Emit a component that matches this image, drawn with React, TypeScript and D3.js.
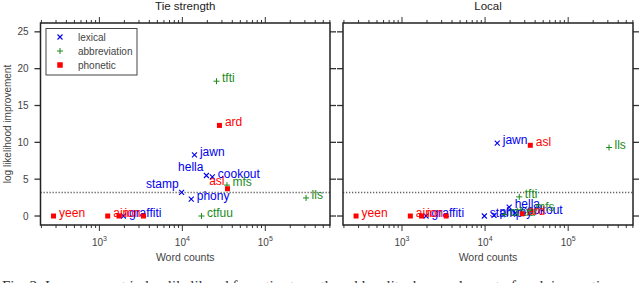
import React, { useRef, useEffect } from "react";
import * as d3 from "d3";

// word list and values
const words = ["yeen", "ain", "ion", "", "graffiti", "stamp", "phony", "jawn", "hella", "cookout", "ctfuu", "tfti", "ard", "asl", "mfs", "lls"];
const wordTypes = ["phonetic", "phonetic", "phonetic", "phonetic", "lexical", "lexical", "lexical", "lexical", "lexical", "lexical", "abbreviation", "abbreviation", "phonetic", "phonetic", "abbreviation", "abbreviation"];
const wordCounts = [280, 1260, 1720, 3400, 1950, 9800, 12800, 14000, 19500, 23000, 17000, 25800, 28000, 35000, 34500, 310000];
const tieStrength = [0, 0, 0, 0, 0, 3.2, 2.3, 8.3, 5.5, 5.3, 0, 18.3, 12.3, 3.7, 4.2, 2.45];
const localGain = [0, 0, 0, 0, 0, 0, 0.1, 9.9, 1.2, 0.4, 0.2, 2.6, 0.3, 9.6, 0.8, 9.3];

const panelTitles = ["Tie strength", "Local"];
const categories = ["lexical", "abbreviation", "phonetic"];
const yTicks = [0, 5, 10, 15, 20, 25];
const threshold = 3.2;

const colors = { lexical: "#0000f0", abbreviation: "#1a8a1a", phonetic: "#ff0000" };
// labels placed to the left of the marker on the first panel
const leftLabels = ["stamp", "hella", "asl"];

const drawMarker = (g, type, x, y, big = false) => {
  const c = colors[type];
  if (type === "lexical") {
    const s = 2.5;
    g.append("path")
      .attr("d", `M${x - s},${y - s}L${x + s},${y + s}M${x - s},${y + s}L${x + s},${y - s}`)
      .attr("stroke", c)
      .attr("stroke-width", 1.1);
  } else if (type === "abbreviation") {
    const s = 3;
    g.append("path")
      .attr("d", `M${x - s},${y}L${x + s},${y}M${x},${y - s}L${x},${y + s}`)
      .attr("stroke", c)
      .attr("stroke-width", 1);
  } else {
    const s = big ? 5.5 : 5;
    g.append("rect")
      .attr("x", x - s / 2)
      .attr("y", y - s / 2)
      .attr("width", s)
      .attr("height", s)
      .attr("fill", c);
  }
};

const App = () => {
  const svgRef = useRef();

  useEffect(() => {
    const width = 640;
    const height = 283;
    const top = 23;
    const bottom = 225;
    const panels = [
      { left: 40.5, right: 330, values: tieStrength },
      { left: 343, right: 633, values: localGain },
    ];

    const svg = d3.select(svgRef.current).attr("width", width).attr("height", height);
    svg.selectAll("*").remove();

    const font = "Liberation Sans, Arial, sans-serif";
    const y = d3.scaleLinear().domain([-1.22, 26.2]).range([bottom, top]);

    panels.forEach((p, pi) => {
      const x = d3.scaleLog().domain([Math.pow(10, 2.29), Math.pow(10, 5.78)]).range([p.left, p.right]);
      const g = svg.append("g");

      // log ticks top and bottom
      const [d0, d1] = x.domain();
      const ticks = [];
      for (let e = 2; e <= 5; e++) {
        for (let m = 1; m <= 9; m++) {
          const v = m * Math.pow(10, e);
          if (v >= d0 && v <= d1) ticks.push({ v, major: m === 1 });
        }
      }
      ticks.forEach((t) => {
        const tx = x(t.v);
        const len = t.major ? 6 : 3;
        g.append("line").attr("x1", tx).attr("x2", tx).attr("y1", bottom).attr("y2", bottom + len)
          .attr("stroke", "#333").attr("stroke-width", 1);
        g.append("line").attr("x1", tx).attr("x2", tx).attr("y1", top).attr("y2", top - len)
          .attr("stroke", "#333").attr("stroke-width", 1);
        if (t.major) {
          const lab = g.append("text")
            .attr("x", tx)
            .attr("y", bottom + 21)
            .attr("text-anchor", "middle")
            .attr("font-family", font)
            .attr("font-size", 10)
            .attr("fill", "#444");
          lab.append("tspan").text("10");
          lab.append("tspan").attr("dy", -5).attr("font-size", 7).text(Math.round(Math.log10(t.v)));
        }
      });

      // y ticks on both sides
      yTicks.forEach((t) => {
        const ty = y(t);
        g.append("line").attr("x1", p.left).attr("x2", p.left - 6).attr("y1", ty).attr("y2", ty)
          .attr("stroke", "#333").attr("stroke-width", 1.3);
        g.append("line").attr("x1", p.right).attr("x2", p.right + 6).attr("y1", ty).attr("y2", ty)
          .attr("stroke", "#333").attr("stroke-width", 1.3);
        if (pi === 0) {
          g.append("text")
            .attr("x", p.left - 12)
            .attr("y", ty + 3.5)
            .attr("text-anchor", "end")
            .attr("font-family", font)
            .attr("font-size", 10)
            .attr("fill", "#444")
            .text(t);
        }
      });

      // dotted threshold
      g.append("line")
        .attr("x1", p.left).attr("x2", p.right)
        .attr("y1", y(threshold)).attr("y2", y(threshold))
        .attr("stroke", "#666")
        .attr("stroke-width", 1.4)
        .attr("stroke-dasharray", "1.3,1.7");

      // frame
      g.append("rect")
        .attr("x", p.left).attr("y", top)
        .attr("width", p.right - p.left).attr("height", bottom - top)
        .attr("fill", "none")
        .attr("stroke", "#222")
        .attr("stroke-width", 1.5);

      // titles
      g.append("text")
        .attr("x", (p.left + p.right) / 2)
        .attr("y", 10)
        .attr("text-anchor", "middle")
        .attr("font-family", font)
        .attr("font-size", 11.5)
        .attr("fill", "#222")
        .text(panelTitles[pi]);

      g.append("text")
        .attr("x", (p.left + p.right) / 2)
        .attr("y", 261)
        .attr("text-anchor", "middle")
        .attr("font-family", font)
        .attr("font-size", 10.5)
        .attr("fill", "#444")
        .text("Word counts");

      // points: lexical, abbreviation, then phonetic on top
      categories.forEach((cat) => {
        words.forEach((w, i) => {
          if (wordTypes[i] !== cat) return;
          const px = x(wordCounts[i]);
          const py = y(p.values[i]);
          drawMarker(g, cat, px, py);
          if (!w) return;
          const onLeft = pi === 0 && leftLabels.includes(w);
          g.append("text")
            .attr("x", onLeft ? px - 3 : px + 5.5)
            .attr("y", onLeft ? py - 4 : py + 1)
            .attr("text-anchor", onLeft ? "end" : "start")
            .attr("font-family", font)
            .attr("font-size", 12)
            .attr("fill", colors[cat])
            .text(w);
        });
      });
    });

    // legend
    const leg = svg.append("g");
    leg.append("rect")
      .attr("x", 46).attr("y", 28.5).attr("width", 91).attr("height", 46.5)
      .attr("fill", "white").attr("stroke", "#444").attr("stroke-width", 1);
    categories.forEach((cat, i) => {
      const ly = 37 + i * 14;
      drawMarker(leg, cat, 60, ly, true);
      leg.append("text")
        .attr("x", 78)
        .attr("y", ly + 3.5)
        .attr("font-family", font)
        .attr("font-size", 10)
        .attr("fill", "#444")
        .text(cat);
    });

    // y label
    svg.append("text")
      .attr("transform", `translate(11,${(top + bottom) / 2}) rotate(-90)`)
      .attr("text-anchor", "middle")
      .attr("font-family", font)
      .attr("font-size", 10)
      .attr("fill", "#444")
      .text("log likelihood improvement");

    // cut-off caption line
    svg.append("text")
      .attr("x", 2)
      .attr("y", 291)
      .attr("font-family", "Liberation Serif, serif")
      .attr("font-size", 15)
      .attr("fill", "#333")
      .text("Fig. 3: Improvement in log likelihood from tie strength and locality, by word count of each innovation.");
  }, []);

  return (
    <div style={{ position: "absolute", left: 0, top: 0 }}>
      <svg ref={svgRef} style={{ display: "block" }}></svg>
    </div>
  );
};

export default App;
